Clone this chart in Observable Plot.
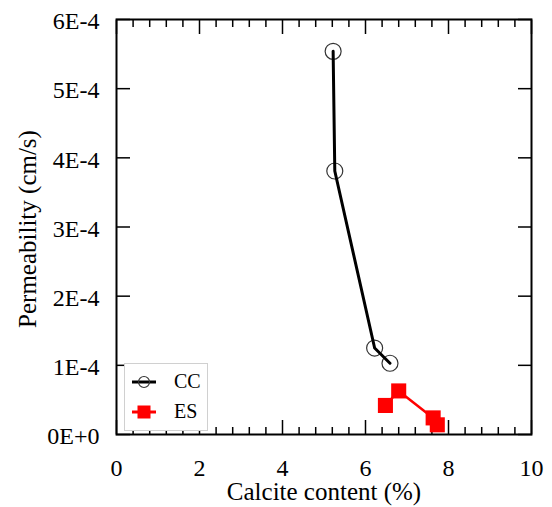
<!DOCTYPE html>
<html>
<head>
<meta charset="utf-8">
<script src="https://cdn.jsdelivr.net/npm/d3@7"></script>
<script src="https://cdn.jsdelivr.net/npm/@observablehq/plot@0.6"></script>
<style>
  body { margin: 0; background: #fff; }
  #chart { position: relative; width: 552px; height: 507px; }
  #chart svg text { font-family: "Liberation Serif", "Times New Roman", serif !important; font-variant: normal !important; }
  #legend { position: absolute; left: 124px; top: 363px; }
</style>
</head>
<body>
<div id="chart"></div>
<script>
// Calcite content (%) and permeability (cm/s) for the two series
const ccCalcite = [5.22, 5.26, 6.22, 6.59];
const ccPerm = [5.54e-4, 3.81e-4, 1.25e-4, 1.03e-4];
const esCalcite = [6.48, 6.80, 7.63, 7.73];
const esPerm = [0.42e-4, 0.63e-4, 0.24e-4, 0.14e-4];

const seriesNames = ["CC", "ES"];

// Axis ticks
const xMajor = [0, 2, 4, 6, 8, 10];
const xMinor = [0.4, 0.8, 1.2, 1.6, 2.4, 2.8, 3.2, 3.6, 4.4, 4.8, 5.2, 5.6, 6.4, 6.8, 7.2, 7.6, 8.4, 8.8, 9.2, 9.6];
const yMajor = [0, 1e-4, 2e-4, 3e-4, 4e-4, 5e-4, 6e-4];

const xTitle = "Calcite content (%)";
const yTitle = "Permeability (cm/s)";

const cc = ccCalcite.map((x, i) => ({x, y: ccPerm[i]}));
const es = esCalcite.map((x, i) => ({x, y: esPerm[i]}));

// 6E-4, 0E+0 style labels
const sci = d => d3.format(".0e")(d).toUpperCase();
const blank = () => "";

const plot = Plot.plot({
  width: 552,
  height: 507,
  marginLeft: 116,
  marginRight: 21,
  marginTop: 19,
  marginBottom: 73,
  style: {fontFamily: "Liberation Serif, serif", fontSize: "24px", color: "#000", background: "#fff", overflow: "visible"},
  x: {domain: [0, 10]},
  y: {domain: [0, 6e-4]},
  marks: [
    // inward tick marks on all four sides
    Plot.axisX({anchor: "bottom", ticks: xMajor, tickSize: -14, tickFormat: blank, label: null, strokeWidth: 1.5}),
    Plot.axisX({anchor: "bottom", ticks: xMinor, tickSize: -7, tickFormat: blank, label: null, strokeWidth: 1.5}),
    Plot.axisX({anchor: "top", ticks: xMajor, tickSize: -14, tickFormat: blank, label: null, strokeWidth: 1.5}),
    Plot.axisX({anchor: "top", ticks: xMinor, tickSize: -7, tickFormat: blank, label: null, strokeWidth: 1.5}),
    Plot.axisY({anchor: "left", ticks: yMajor, tickSize: -14, tickFormat: blank, label: null, strokeWidth: 1.5}),
    Plot.axisY({anchor: "right", ticks: yMajor, tickSize: -14, tickFormat: blank, label: null, strokeWidth: 1.5}),
    // tick labels
    Plot.axisX({anchor: "bottom", ticks: xMajor, tickSize: 0, tickPadding: 24, tickFormat: d => String(d), label: null, fontSize: 24}),
    Plot.axisY({anchor: "left", ticks: yMajor, tickSize: 0, tickPadding: 17, dy: 2, tickFormat: sci, label: null, fontSize: 24}),
    // axis titles
    Plot.text([xTitle], {frameAnchor: "bottom", textAnchor: "middle", lineAnchor: "top", dy: 48, text: d => d, fontSize: 25}),
    Plot.text([yTitle], {frameAnchor: "left", textAnchor: "middle", lineAnchor: "middle", rotate: -90, dx: -89, dy: 2, text: d => d, fontSize: 25}),
    // CC series
    Plot.dot(cc, {x: "x", y: "y", r: 8, stroke: "#333", strokeWidth: 1.2, fill: "none"}),
    Plot.line(cc, {x: "x", y: "y", stroke: "#000", strokeWidth: 3}),
    // ES series
    Plot.line(es, {x: "x", y: "y", stroke: "#ff0000", strokeWidth: 2.5}),
    Plot.dot(es, {x: "x", y: "y", symbol: "square", r: 8.5, fill: "#ff0000", stroke: "none"}),
    Plot.frame({stroke: "#000", strokeWidth: 2})
  ]
});

const chart = document.getElementById("chart");
chart.appendChild(plot);

// Legend box inside the plot area
const leg = d3.select(chart).append("svg")
  .attr("id", "legend")
  .attr("width", 84)
  .attr("height", 68);
leg.append("rect")
  .attr("x", 0.5).attr("y", 0.5).attr("width", 83).attr("height", 67)
  .attr("fill", "#fff").attr("stroke", "#d0d0d0").attr("stroke-width", 1);

const rows = [
  {name: seriesNames[0], color: "#000", cy: 19, symbol: "circle"},
  {name: seriesNames[1], color: "#ff0000", cy: 49, symbol: "square"}
];
rows.forEach(r => {
  const g = leg.append("g");
  g.append("line").attr("x1", 8).attr("x2", 32).attr("y1", r.cy).attr("y2", r.cy)
    .attr("stroke", r.color).attr("stroke-width", 3);
  if (r.symbol === "circle") {
    g.append("circle").attr("cx", 20).attr("cy", r.cy).attr("r", 5.5)
      .attr("fill", "none").attr("stroke", "#333").attr("stroke-width", 1.2);
  } else {
    g.append("rect").attr("x", 13.5).attr("y", r.cy - 6.5).attr("width", 13).attr("height", 13)
      .attr("fill", r.color);
  }
  g.append("text").attr("x", 50).attr("y", r.cy + 6)
    .attr("font-size", 20).attr("fill", "#000")
    .text(r.name);
});
</script>
</body>
</html>
